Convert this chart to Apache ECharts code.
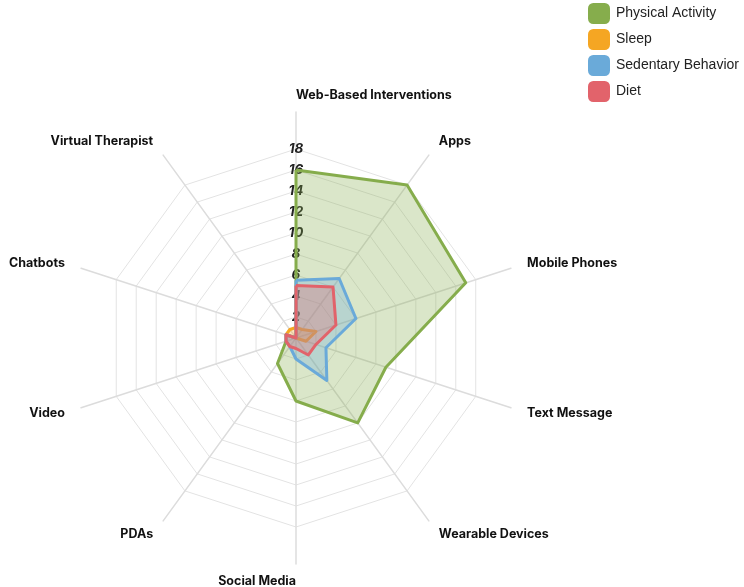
<!DOCTYPE html>
<html>
<head>
<meta charset="utf-8">
<script src="https://cdn.jsdelivr.net/npm/echarts@6/dist/echarts.min.js"></script>
<style>
  html, body { margin: 0; padding: 0; background: #fff; }
  #chart { width: 744px; height: 587px; }
</style>
</head>
<body>
<div id="chart"></div>
<script>
// categories clockwise from the top
var categories = ["Web-Based Interventions", "Apps", "Mobile Phones", "Text Message", "Wearable Devices",
  "Social Media", "PDAs", "Video", "Chatbots", "Virtual Therapist"];
var seriesNames = ["Physical Activity", "Sleep", "Sedentary Behavior", "Diet"];
var physicalActivity = [16, 18, 17, 9, 10, 6, 3, 1, 1, 0];
var sleep = [1, 1, 2, 1, 0, 0, 0, 0, 1, 1];
var sedentaryBehavior = [5.5, 7, 6, 3, 5, 2, 1, 1, 1, 0];
var diet = [5, 6, 4, 2, 2, 1, 1, 1, 1, 0];
var tickLabels = [2, 4, 6, 8, 10, 12, 14, 16, 18];

var colors = ["#86ad4c", "#f5a623", "#6aaad9", "#e2636b"];
var maxValue = tickLabels[tickLabels.length - 1];

// echarts lays radar axes counter-clockwise, so keep the first and reverse the rest
function ccw(arr) {
  return [arr[0]].concat(arr.slice(1).reverse());
}

var order = ccw(categories);
var n = order.length;

var outerIndicators = order.map(function (name, i) {
  var ang = Math.PI / 2 + i * 2 * Math.PI / n;
  var c = Math.cos(ang);
  var align = c > 1e-6 ? "left" : (c < -1e-6 ? "right" : (i === 0 ? "left" : "right"));
  return { name: name, max: maxValue, min: 0, nameTextStyle: { align: align, verticalAlign: "middle" } };
});

var innerIndicators = order.map(function (name, i) {
  var ind = { name: name, max: maxValue, min: 0 };
  if (i === 0) ind.axisLabel = { show: true };
  return ind;
});

var chart = echarts.init(document.getElementById("chart"));

chart.setOption({
  animation: false,
  color: colors,
  legend: {
    orient: "vertical",
    left: 583,
    top: -2,
    itemWidth: 22,
    itemHeight: 21,
    itemGap: 5,
    icon: "roundRect",
    textStyle: { fontSize: 14, color: "#222", fontFamily: "'Liberation Sans', Arial, sans-serif", padding: [0, 0, 0, 1] },
    data: seriesNames
  },
  radar: [
    {
      center: [296, 338],
      radius: 226,
      indicator: outerIndicators,
      splitNumber: 1,
      axisNameGap: 17,
      axisName: { color: "#111", fontWeight: "bold", fontSize: 12.5, fontFamily: "Inter, sans-serif" },
      axisLine: { lineStyle: { color: "#dcdcdc", width: 1.5 } },
      splitLine: { show: false },
      splitArea: { show: false },
      axisLabel: { show: false },
      axisTick: { show: false }
    },
    {
      center: [296, 338],
      radius: 189,
      indicator: innerIndicators,
      splitNumber: tickLabels.length,
      axisName: { show: false },
      axisLine: { show: false },
      axisTick: { show: false },
      splitArea: { show: false },
      splitLine: { lineStyle: { color: "#e3e3e3", width: 1 } },
      axisLabel: {
        show: false,
        margin: 0,
        align: "center",
        verticalAlign: "middle",
        color: "#222",
        fontSize: 13.5,
        fontStyle: "italic",
        fontWeight: "bold",
        fontFamily: "Inter, sans-serif",
        formatter: function (v) { return v === 0 ? "" : v; }
      }
    }
  ],
  series: [
    {
      type: "radar",
      radarIndex: 1,
      symbol: "none",
      lineStyle: { width: 3 },
      areaStyle: { opacity: 0.3 },
      data: [
        { name: seriesNames[0], value: ccw(physicalActivity) },
        { name: seriesNames[1], value: ccw(sleep) },
        { name: seriesNames[2], value: ccw(sedentaryBehavior) },
        { name: seriesNames[3], value: ccw(diet) }
      ]
    }
  ]
});
</script>
</body>
</html>
